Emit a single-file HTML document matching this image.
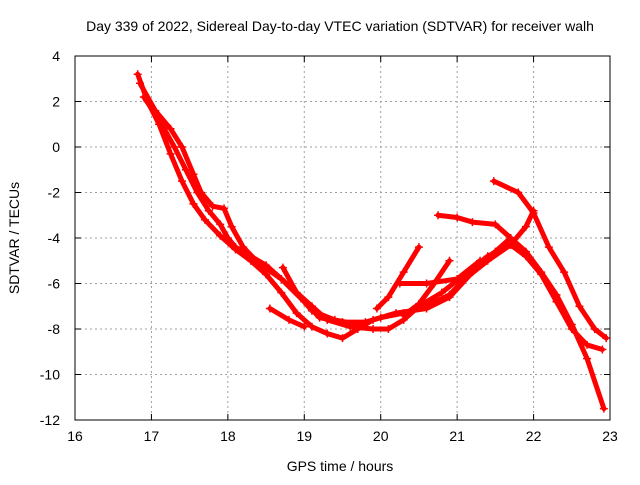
<!DOCTYPE html>
<html><head><meta charset="utf-8"><style>
body{margin:0;background:#fff}
svg text{font-family:"Liberation Sans",sans-serif;font-size:14px;fill:#000}
</style></head><body>
<svg id="chart" width="640" height="480">
<text x="340" y="31" text-anchor="middle">Day 339 of 2022, Sidereal Day-to-day VTEC variation (SDTVAR) for receiver walh</text>
<text x="340" y="471" text-anchor="middle">GPS time / hours</text>
<text transform="translate(19,238) rotate(-90)" text-anchor="middle">SDTVAR / TECUs</text>
<g id="grid"></g><g id="axes"></g><g id="series"></g>
<rect x="75" y="56" width="535" height="364" fill="none" stroke="#000" stroke-width="1"/>
</svg>
<script>
const xTicks=[16,17,18,19,20,21,22,23];
const yTicks=[4,2,0,-2,-4,-6,-8,-10,-12];
const track1=[[16.82,3.2],[16.95,2.0],[17.1,1.0],[17.25,-0.3],[17.4,-1.5],[17.55,-2.5],[17.7,-3.2],[17.9,-3.9],[18.1,-4.5],[18.3,-5.0],[18.5,-5.6],[18.7,-6.4],[18.9,-7.3],[19.1,-7.9],[19.3,-8.2],[19.5,-8.4],[19.7,-8.0],[19.9,-7.6],[20.2,-7.3],[20.6,-7.1],[20.9,-6.6],[21.2,-5.5],[21.5,-4.6],[21.7,-4.0],[21.9,-4.6],[22.1,-5.5],[22.3,-6.5],[22.5,-7.8],[22.7,-9.3],[22.92,-11.5]];
const track2=[[16.85,2.8],[17.05,1.6],[17.25,0.8],[17.4,0.0],[17.55,-1.2],[17.65,-2.0],[17.8,-2.6],[17.95,-2.7],[18.05,-3.5],[18.2,-4.4],[18.4,-5.1],[18.7,-5.8],[19.0,-6.8],[19.2,-7.5],[19.5,-7.7],[19.8,-7.7],[20.0,-7.5],[20.3,-7.3],[20.6,-7.0],[20.9,-6.5],[21.1,-5.8],[21.4,-5.0],[21.7,-4.3],[21.9,-3.5],[22.0,-2.8]];
const track3=[[16.9,2.2],[17.1,1.2],[17.3,0.0],[17.45,-1.0],[17.6,-2.0],[17.75,-2.8],[17.9,-3.4],[18.0,-4.0],[18.1,-4.4],[18.3,-4.8],[18.5,-5.2],[18.8,-6.1],[19.1,-7.0],[19.3,-7.6],[19.6,-7.9],[19.9,-8.0],[20.1,-8.0],[20.3,-7.6],[20.5,-7.0],[20.8,-6.4],[21.1,-5.6],[21.4,-4.8],[21.7,-4.3],[21.9,-4.8],[22.1,-5.6],[22.3,-6.8],[22.5,-8.0],[22.7,-8.7],[22.9,-8.9]];
const track4=[[18.72,-5.3],[18.9,-6.4],[19.1,-7.2],[19.4,-7.6],[19.7,-7.8]];
const track5=[[18.55,-7.1],[18.8,-7.6],[19.0,-7.9]];
const track6=[[20.5,-4.4],[20.3,-5.5],[20.1,-6.6],[19.95,-7.1]];
const track7=[[20.9,-5.0],[20.7,-6.0],[20.5,-6.9],[20.3,-7.4]];
const track8=[[20.25,-6.0],[20.6,-6.0],[21.0,-5.8],[21.3,-5.0]];
const track9=[[20.75,-3.0],[21.0,-3.1],[21.2,-3.3],[21.5,-3.4],[21.7,-4.0]];
const track10=[[21.48,-1.5],[21.8,-2.0],[22.0,-2.9],[22.2,-4.4],[22.4,-5.5],[22.6,-7.0],[22.8,-8.0],[22.95,-8.4]];
const tracks=[track1,track2,track3,track4,track5,track6,track7,track8,track9,track10];
const NS='http://www.w3.org/2000/svg';
const X=t=>75+(t-16)*(535/7);
const Y=v=>56+(4-v)*(364/16);
function mk(tag,attrs,parent){const e=document.createElementNS(NS,tag);for(const k in attrs)e.setAttribute(k,attrs[k]);parent.appendChild(e);return e;}
const grid=document.getElementById('grid'),axes=document.getElementById('axes'),ser=document.getElementById('series');
xTicks.forEach(t=>{
 const x=X(t);
 if(t>16&&t<23){const l=mk('line',{x1:x,x2:x,y1:56,y2:420,stroke:'#a0a0a0','stroke-dasharray':'2,3'},grid);
 
 }
 mk('line',{x1:x,x2:x,y1:420,y2:414,stroke:'#000'},axes);
 mk('line',{x1:x,x2:x,y1:56,y2:62,stroke:'#000'},axes);
 const tx=mk('text',{x:x,y:441,'text-anchor':'middle'},axes);tx.textContent=t;
 
 
});
yTicks.forEach(v=>{
 const y=Y(v);
 if(v<4&&v>-12){const l=mk('line',{x1:75,x2:610,y1:y,y2:y,stroke:'#a0a0a0','stroke-dasharray':'2,3'},grid);
 
 }
 mk('line',{x1:75,x2:81,y1:y,y2:y,stroke:'#000'},axes);
 mk('line',{x1:610,x2:604,y1:y,y2:y,stroke:'#000'},axes);
 const tx=mk('text',{x:60,y:y+5,'text-anchor':'end'},axes);tx.textContent=v;
 
 
});
tracks.forEach((tr,i)=>{
 const g=mk('g',{},ser);
 
 
 mk('polyline',{points:tr.map(p=>X(p[0])+','+Y(p[1])).join(' '),fill:'none',stroke:'#f00','stroke-width':5,'stroke-linejoin':'round','stroke-linecap':'round'},g);
 tr.forEach(p=>{
  const x=X(p[0]),y=Y(p[1]);
  const m=mk('path',{d:`M${x-4},${y}h8M${x},${y-4}v8`,stroke:'#f00','stroke-width':1.5},g);
  
  
 });
});
</script>
</body></html>
